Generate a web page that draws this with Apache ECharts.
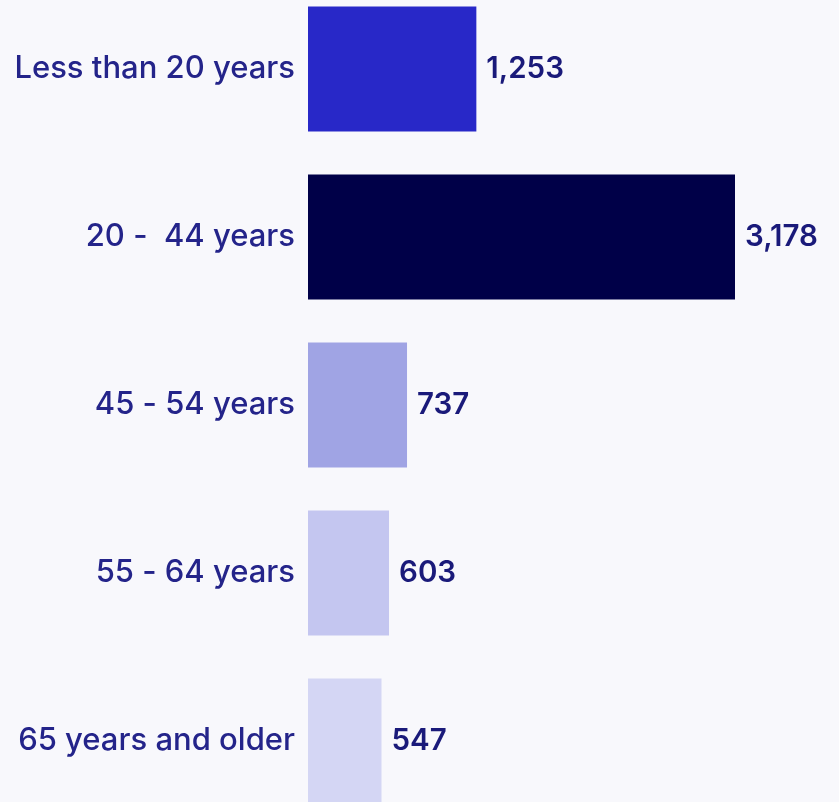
<!DOCTYPE html>
<html>
<head>
<meta charset="utf-8">
<script src="https://cdn.jsdelivr.net/npm/echarts@6/dist/echarts.min.js"></script>
<style>
  html, body { margin: 0; padding: 0; background: #f8f8fc; }
  #chart { width: 839px; height: 802px; }
</style>
</head>
<body>
<div id="chart"></div>
<script>
// Age groups, top to bottom
const categories = ['Less than 20 years', '20 -  44 years', '45 - 54 years', '55 - 64 years', '65 years and older'];
const values = [1253, 3178, 737, 603, 547];
const barColors = ['#2828c8', '#000048', '#a0a4e4', '#c4c6f0', '#d4d6f4'];

const chart = echarts.init(document.getElementById('chart'));
chart.setOption({
  backgroundColor: '#f8f8fc',
  animation: false,
  // the plot area runs slightly past the top and bottom edges
  grid: { left: 308, right: 104, top: -15, bottom: -23, containLabel: false, outerBoundsMode: 'none' },
  xAxis: {
    type: 'value',
    min: 0,
    max: 3178 * (839 - 308 - 104) / 427,
    show: false
  },
  yAxis: {
    type: 'category',
    inverse: true,
    data: categories,
    axisLine: { show: false },
    axisTick: { show: false },
    axisLabel: {
      margin: 13,
      color: '#24248a',
      fontFamily: 'Inter',
      fontWeight: 500,
      fontSize: 31
    }
  },
  series: [{
    type: 'bar',
    barWidth: 125,
    data: values.map((v, i) => ({ value: v, itemStyle: { color: barColors[i] } })),
    label: {
      show: true,
      position: 'right',
      distance: 10,
      color: '#1a1a7a',
      fontFamily: 'Inter',
      fontWeight: 600,
      fontSize: 29.5,
      formatter: p => p.value.toLocaleString('en-US')
    }
  }]
});
</script>
</body>
</html>
